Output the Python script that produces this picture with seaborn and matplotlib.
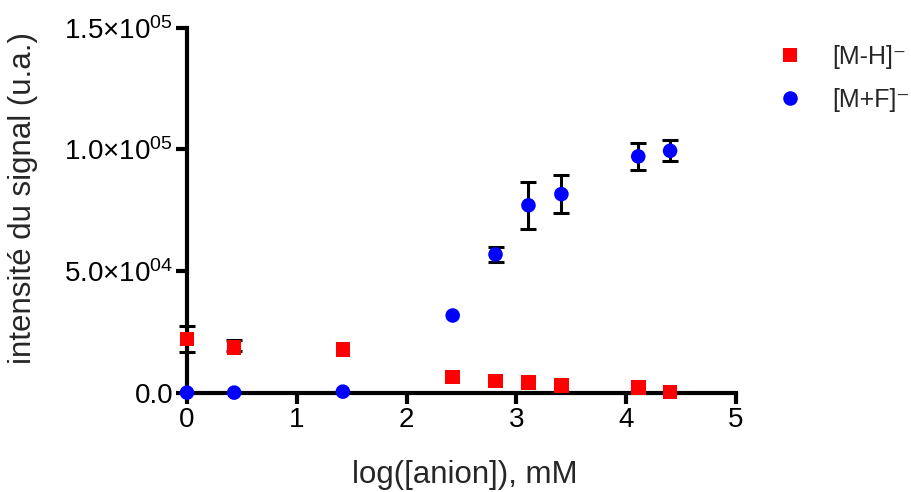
import numpy as np
import pandas as pd
import seaborn as sns
import matplotlib.pyplot as plt

# values
log_anion = [0, 0.43, 1.42, 2.42, 2.81, 3.11, 3.41, 4.11, 4.40]
m_h = [22100, 18600, 17700, 6500, 4800, 4200, 3000, 2200, 300]
m_h_err_low = [5200, 1500, 0, 0, 0, 0, 0, 0, 0]
m_h_err_up = [5200, 3100, 0, 0, 0, 0, 0, 0, 0]
m_f = [0, 0, 400, 31700, 56800, 77000, 81600, 97100, 99400]
m_f_err = [0, 0, 0, 0, 3100, 9700, 7800, 5500, 4300]
series_names = ["[M-H]⁻", "[M+F]⁻"]
x_ticks = [0, 1, 2, 3, 4, 5]
y_ticks = [0, 50000, 100000, 150000]
y_ticklabels = ["0.0", "5.0×10$^{04}$", "1.0×10$^{05}$", "1.5×10$^{05}$"]

sns.set_style("ticks")
plt.rcParams['font.family'] = ['Liberation Sans', 'DejaVu Sans']
plt.rcParams['mathtext.fontset'] = 'custom'
plt.rcParams['mathtext.rm'] = 'Liberation Sans'
plt.rcParams['mathtext.it'] = 'Liberation Sans:italic'

df = pd.DataFrame({
  "x": log_anion * 2,
  "y": m_h + m_f,
  "serie": [series_names[0]] * len(log_anion) + [series_names[1]] * len(log_anion),
})

fig = plt.figure(figsize=(9.12, 4.92), dpi=100)
ax = fig.add_axes([0.205, 0.202, 0.602, 0.7417])

# error bars (drawn only where there is one)
x = np.array(log_anion)
lo = np.array(m_h_err_low); up = np.array(m_h_err_up)
k = (lo + up) > 0
ax.errorbar(x[k], np.array(m_h)[k], yerr=[lo[k], up[k]], fmt='none', ecolor='black',
  elinewidth=2.2, capsize=6, capthick=2.2, zorder=3, clip_on=False)
fe = np.array(m_f_err)
k = fe > 0
ax.errorbar(x[k], np.array(m_f)[k], yerr=fe[k], fmt='none', ecolor='black',
  elinewidth=2.2, capsize=6, capthick=2.2, zorder=3, clip_on=False)

sns.scatterplot(data=df, x="x", y="y", hue="serie", style="serie",
  palette={series_names[0]: "#ff0000", series_names[1]: "#0000ff"},
  markers={series_names[0]: "s", series_names[1]: "o"},
  s=110, linewidth=0, zorder=4, clip_on=False, ax=ax)

ax.set_xlim(0, 5)
ax.set_ylim(0, 150000)
ax.set_xticks(x_ticks)
ax.set_yticks(y_ticks)
ax.set_yticklabels(y_ticklabels)
sns.despine(ax=ax)
for sp in ["left", "bottom"]:
  ax.spines[sp].set_linewidth(3)
  ax.spines[sp].set_color("black")
  ax.spines[sp].set_zorder(2)
ax.tick_params(width=3, length=8, labelsize=20, colors="black", pad=2)

ax.set_ylabel("intensité du signal (u.a.)", fontsize=22.5)
ax.yaxis.set_label_coords(-0.271, 0.532)
ax.set_xlabel("log([anion]), mM", fontsize=22.5)
ax.xaxis.set_label_coords(0.506, -0.185)
ax.xaxis.label.set_va("top")

handles, labels = ax.get_legend_handles_labels()
ax.legend(handles, labels, loc="upper left", bbox_to_anchor=(771 / 912, 1 - 45 / 492),
  bbox_transform=fig.transFigure, frameon=False, fontsize=18, borderpad=0,
  borderaxespad=0, handlelength=1.5, handletextpad=0.97, labelspacing=0.75, markerscale=1.0)

fig.savefig("out.png", dpi=100)
